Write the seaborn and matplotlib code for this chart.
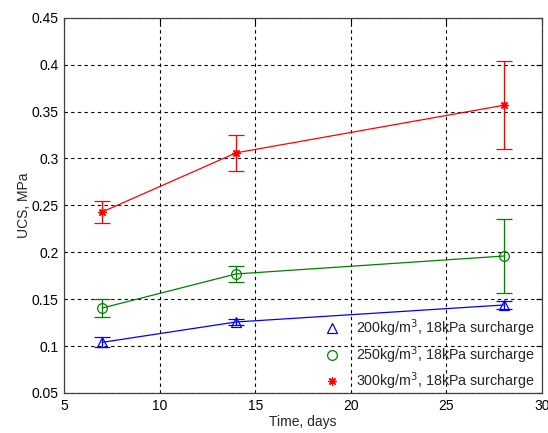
import matplotlib
matplotlib.use("Agg")
import matplotlib.pyplot as plt
import seaborn as sns
import pandas as pd
from matplotlib.lines import Line2D

days = [7, 14, 28]
labels = ["200kg/m$^3$, 18kPa surcharge",
          "250kg/m$^3$, 18kPa surcharge",
          "300kg/m$^3$, 18kPa surcharge"]
ucs_200 = [0.104, 0.1257, 0.1438]
err_200 = [0.0055, 0.003, 0.004]
ucs_250 = [0.1406, 0.1769, 0.196]
err_250 = [0.0095, 0.009, 0.039]
ucs_300 = [0.243, 0.306, 0.3567]
err_300 = [0.012, 0.019, 0.0467]

colors = ["#0000ff", "#008000", "#ff0000"]
markers = ["^", "o", (8, 2, 0)]
msizes = [7, 7, 6]

sns.set_theme(style="white")
plt.rcParams["font.family"] = ["Liberation Sans", "DejaVu Sans"]

fig = plt.figure(figsize=(5.48, 4.33), dpi=100)
ax = fig.add_axes([0.1168, 0.0924, 0.9890 - 0.1168, 0.959 - 0.0924])

series = [(ucs_200, err_200), (ucs_250, err_250), (ucs_300, err_300)]
for (vals, errs), lab, c, m, ms in zip(series, labels, colors, markers, msizes):
    df = pd.DataFrame({"Time": days, "UCS": vals})
    sns.lineplot(data=df, x="Time", y="UCS", ax=ax, color=c, linewidth=0.9,
                 marker=m, markersize=ms, markerfacecolor="none",
                 markeredgecolor=c, markeredgewidth=0.9, legend=False)
    ax.errorbar(days, vals, yerr=errs, fmt="none", ecolor=c, elinewidth=0.9,
                capsize=5.5, capthick=0.9)

ax.set_xlim(5, 30)
ax.set_ylim(0.05, 0.45)
ax.set_xticks([5, 10, 15, 20, 25, 30])
ax.set_yticks([0.05, 0.1, 0.15, 0.2, 0.25, 0.3, 0.35, 0.4, 0.45])
ax.set_yticklabels(["0.05", "0.1", "0.15", "0.2", "0.25", "0.3", "0.35", "0.4", "0.45"])
ax.grid(True, color="black", linestyle=(0, (3, 3)), linewidth=0.8)
ax.tick_params(direction="in", length=4, width=0.8, labelsize=10,
               top=True, right=True, colors="black", pad=4)
for s in ax.spines.values():
    s.set_color("#404040")
    s.set_linewidth(0.9)
ax.set_xlabel("Time, days", fontsize=10, labelpad=2)
ax.set_ylabel("UCS, MPa", fontsize=10, labelpad=0)

handles = [Line2D([], [], linestyle="none", marker=m, color=c,
                  markerfacecolor="none", markeredgecolor=c,
                  markersize=ms, markeredgewidth=0.9)
           for m, c, ms in zip(markers, colors, msizes)]
leg = ax.legend(handles, labels, loc="lower right", frameon=False,
                bbox_to_anchor=(0.987, 0.0),
                fontsize=10.3, handletextpad=0.7, labelspacing=0.35,
                borderaxespad=0.05, borderpad=0.0)

fig.savefig("out.png", dpi=100)
